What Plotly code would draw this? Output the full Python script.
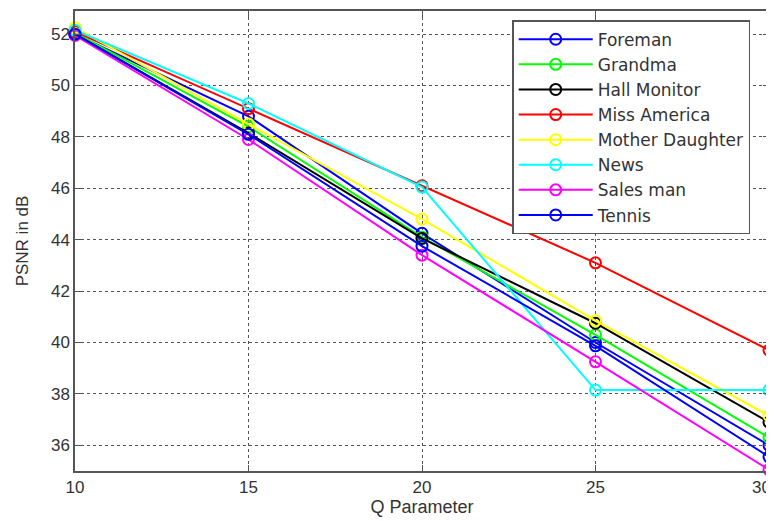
import plotly.graph_objects as go

q_param = [10, 15, 20, 25, 30]
foreman = [52.0, 48.8, 44.25, 40.0, 36.0]
grandma = [52.05, 48.4, 44.1, 40.3, 36.3]
hall_monitor = [52.0, 48.15, 44.05, 40.75, 36.9]
miss_america = [52.1, 49.1, 46.1, 43.1, 39.7]
mother_daughter = [52.25, 48.5, 44.8, 40.85, 37.15]
news = [52.15, 49.3, 46.05, 38.15, 38.15]
sales_man = [51.95, 47.9, 43.4, 39.25, 35.05]
tennis = [52.0, 48.1, 43.75, 39.87, 35.55]

series_names = ["Foreman", "Grandma", "Hall Monitor", "Miss America",
                "Mother Daughter", "News", "Sales man", "Tennis"]
series_values = [foreman, grandma, hall_monitor, miss_america,
                 mother_daughter, news, sales_man, tennis]
colors = ["#0000ff", "#00ff00", "#000000", "#ff0000",
          "#ffff00", "#00ffff", "#ff00ff", "#0000ff"]

x_ticks = [10, 15, 20, 25, 30]
x_tick_labels = ["10", "15", "20", "25", "30"]
y_ticks = [36, 38, 40, 42, 44, 46, 48, 50, 52]

fig = go.Figure()
for i, (name, vals, col) in enumerate(zip(series_names, series_values, colors)):
    fig.add_trace(go.Scatter(
        x=q_param, y=vals, name=name, mode="lines+markers",
        line=dict(color=col, width=2),
        marker=dict(symbol="circle-open", size=11, color=col, line=dict(width=2, color=col)),
        cliponaxis=False,
    ))

tick_font = dict(family="Liberation Sans, Arial", size=17, color="#333333")

axis_common = dict(
    showline=True, linecolor="#555555", linewidth=1.5, mirror="ticks",
    ticks="inside", ticklen=6, tickcolor="#555555",
    showgrid=True, gridcolor="#555555", griddash="3px,3px", gridwidth=1,
    zeroline=False, automargin=False, ticklabeloverflow="allow",
    tickfont=tick_font,
)

# the last x tick label sits at the right edge; draw it right-aligned so it stays inside
fig.update_layout(
    width=766, height=513,
    margin=dict(l=67, r=5, t=3, b=50),
    paper_bgcolor="white", plot_bgcolor="white",
    font=dict(family="Liberation Sans, Arial", size=17, color="#333333"),
    xaxis=dict(range=[10, 30], tickvals=x_ticks,
               ticktext=x_tick_labels[:-1] + [""],
               title=dict(text="Q Parameter", standoff=4, font=dict(size=18)), **axis_common),
    yaxis=dict(range=[35.0, 52.9], tickvals=y_ticks,
               title=dict(text="PSNR in dB", standoff=18, font=dict(size=17)), **axis_common),
    legend=dict(x=0.63, y=0.98, xanchor="left", yanchor="top",
                bgcolor="white", bordercolor="#555555", borderwidth=1.5,
                itemwidth=74,
                font=dict(family="DejaVu Sans", size=17, color="#333333")),
    showlegend=True,
    annotations=[dict(x=x_ticks[-1], xref="x", y=0, yref="paper",
                      text=x_tick_labels[-1], showarrow=False,
                      xanchor="right", yanchor="top", xshift=4, yshift=-5,
                      font=tick_font)],
)

fig.write_html("out.html")
